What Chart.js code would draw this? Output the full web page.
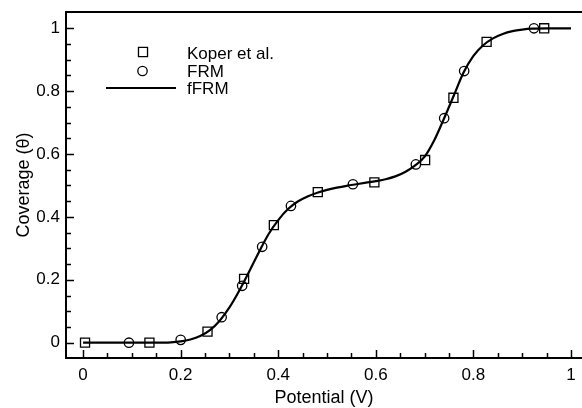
<!DOCTYPE html>
<html>
<head>
<meta charset="utf-8">
<script src="https://cdn.jsdelivr.net/npm/chart.js@4.4.0/dist/chart.umd.min.js"></script>
<style>
html,body{margin:0;padding:0;background:#fff;}
canvas{display:block;}
</style>
</head>
<body>
<canvas id="c" width="582" height="408"></canvas>
<script>
// Koper et al. (squares)
const koperX = [0.004, 0.136, 0.255, 0.330, 0.391, 0.481, 0.597, 0.701, 0.759, 0.827, 0.945];
const koperY = [0.000, 0.000, 0.035, 0.203, 0.374, 0.479, 0.510, 0.581, 0.779, 0.957, 1.000];
// FRM (circles)
const frmX = [0.094, 0.200, 0.284, 0.326, 0.367, 0.426, 0.553, 0.682, 0.740, 0.781, 0.924];
const frmY = [0.000, 0.009, 0.081, 0.181, 0.305, 0.435, 0.504, 0.567, 0.714, 0.864, 1.000];
// fFRM (line)
const ffrmX = [0, 0.05, 0.10, 0.15, 0.18, 0.20, 0.22, 0.24, 0.26, 0.28, 0.30, 0.32, 0.34, 0.36, 0.38, 0.40, 0.42, 0.44, 0.46, 0.48, 0.50, 0.52, 0.54, 0.56, 0.58, 0.60, 0.62, 0.64, 0.66, 0.68, 0.70, 0.72, 0.74, 0.76, 0.78, 0.80, 0.82, 0.84, 0.86, 0.88, 0.90, 0.92, 0.95, 1.00];
const ffrmY = [0, 0, 0, 0, 0.001, 0.004, 0.010, 0.021, 0.040, 0.070, 0.112, 0.165, 0.225, 0.287, 0.345, 0.390, 0.425, 0.449, 0.465, 0.477, 0.486, 0.493, 0.499, 0.504, 0.509, 0.514, 0.520, 0.529, 0.543, 0.563, 0.592, 0.645, 0.714, 0.787, 0.860, 0.912, 0.946, 0.968, 0.982, 0.991, 0.996, 0.999, 1.000, 1.000];

const seriesNames = ['Koper et al.', 'FRM', 'fFRM'];
const xTickValues = [0, 0.2, 0.4, 0.6, 0.8, 1];
const xTickLabels = ['0', '0.2', '0.4', '0.6', '0.8', '1'];
const yTickValues = [0, 0.2, 0.4, 0.6, 0.8, 1];
const yTickLabels = ['0', '0.2', '0.4', '0.6', '0.8', '1'];
const minorStep = 0.05;
const xTitle = 'Potential (V)';
const yTitle = 'Coverage (\u03B8)';

const toPts = (xs, ys) => xs.map((x, i) => ({x: x, y: ys[i]}));
const FONT = '"Liberation Sans", Arial, Helvetica, sans-serif';

const framePlugin = {
  id: 'frame',
  afterDraw(chart) {
    const ctx = chart.ctx;
    const xs = chart.scales.x, ys = chart.scales.y;
    const a = chart.chartArea;
    const right = chart.width;
    ctx.save();
    ctx.strokeStyle = '#000';
    // frame: left, bottom, top
    ctx.lineWidth = 2;
    ctx.beginPath();
    ctx.moveTo(a.left, a.top); ctx.lineTo(a.left, a.bottom);
    ctx.moveTo(a.left - 1, a.bottom); ctx.lineTo(right, a.bottom);
    ctx.moveTo(a.left - 1, a.top); ctx.lineTo(right, a.top);
    ctx.stroke();
    // ticks (inward)
    ctx.lineWidth = 1.5;
    ctx.beginPath();
    for (let k = 0; k <= 20; k++) {
      const v = k * minorStep;
      const major = k % 4 === 0;
      const len = major ? 8 : 5;
      const px = Math.round(xs.getPixelForValue(v)) + 0.5;
      ctx.moveTo(px, a.bottom); ctx.lineTo(px, a.bottom - len);
      const py = Math.round(ys.getPixelForValue(v)) + 0.5;
      ctx.moveTo(a.left, py); ctx.lineTo(a.left + len, py);
    }
    ctx.stroke();
    // legend
    const ds = chart.data.datasets;
    const rows = [{x: 143, y: 52, base: 58.5}, {x: 142.5, y: 71, base: 76.8}, {x: 141, y: 88, base: 94.4}];
    ds.forEach((d, i) => {
      const r = rows[i];
      ctx.strokeStyle = '#000';
      if (d.showLine) {
        ctx.lineWidth = d.borderWidth;
        ctx.beginPath();
        ctx.moveTo(106, r.y); ctx.lineTo(176, r.y);
        ctx.stroke();
      } else {
        ctx.fillStyle = 'rgba(0,0,0,0)';
        ctx.lineWidth = d.borderWidth;
        Chart.helpers.drawPoint(ctx, {
          pointStyle: d.pointStyle, radius: d.pointRadius, rotation: 0, borderWidth: d.borderWidth
        }, r.x, r.y);
      }
      ctx.font = '17px ' + FONT;
      ctx.fillStyle = '#000';
      ctx.textBaseline = 'alphabetic';
      ctx.textAlign = 'left';
      ctx.fillText(d.label, 187, r.base);
    });
    ctx.restore();
  }
};

new Chart(document.getElementById('c'), {
  type: 'scatter',
  data: {
    datasets: [
      {
        label: seriesNames[0],
        data: toPts(koperX, koperY),
        pointStyle: 'rect',
        pointRadius: 6.4,
        borderWidth: 1.3,
        borderColor: '#000',
        backgroundColor: 'rgba(0,0,0,0)',
        showLine: false,
        order: 1
      },
      {
        label: seriesNames[1],
        data: toPts(frmX, frmY),
        pointStyle: 'circle',
        pointRadius: 4.7,
        borderWidth: 1.3,
        borderColor: '#000',
        backgroundColor: 'rgba(0,0,0,0)',
        showLine: false,
        order: 2
      },
      {
        label: seriesNames[2],
        data: toPts(ffrmX, ffrmY),
        showLine: true,
        pointRadius: 0,
        borderWidth: 2.2,
        borderColor: '#000',
        backgroundColor: '#000',
        cubicInterpolationMode: 'monotone',
        order: 3
      }
    ]
  },
  options: {
    responsive: false,
    animation: false,
    events: [],
    layout: {autoPadding: false, padding: {top: 12, right: 0, left: 0, bottom: 0}},
    plugins: {legend: {display: false}, tooltip: {enabled: false}},
    scales: {
      x: {
        type: 'linear',
        min: -0.035,
        max: 1.0225,
        afterBuildTicks: s => { s.ticks = xTickValues.map(v => ({value: v})); },
        afterFit: s => { s.height = 50; s.paddingLeft = 0; s.paddingRight = 0; },
        grid: {display: false, drawTicks: false},
        border: {display: false},
        ticks: {
          callback: (v, i) => xTickLabels[i],
          font: {family: FONT, size: 17},
          color: '#000',
          padding: 7,
          maxRotation: 0
        },
        title: {display: true, text: xTitle, font: {family: FONT, size: 18, lineHeight: 1}, color: '#000', padding: {top: 0, bottom: 1}}
      },
      y: {
        type: 'linear',
        min: -0.0487,
        max: 1.0518,
        afterBuildTicks: s => { s.ticks = yTickValues.map(v => ({value: v})); },
        afterFit: s => { s.width = 66; s.paddingTop = 0; s.paddingBottom = 0; },
        grid: {display: false, drawTicks: false},
        border: {display: false},
        ticks: {
          callback: (v, i) => yTickLabels[i],
          font: {family: FONT, size: 17},
          color: '#000',
          padding: 6
        },
        title: {display: true, text: yTitle, font: {family: FONT, size: 18}, color: '#000', padding: {top: 13, bottom: 0}}
      }
    }
  },
  plugins: [framePlugin]
});
</script>
</body>
</html>
